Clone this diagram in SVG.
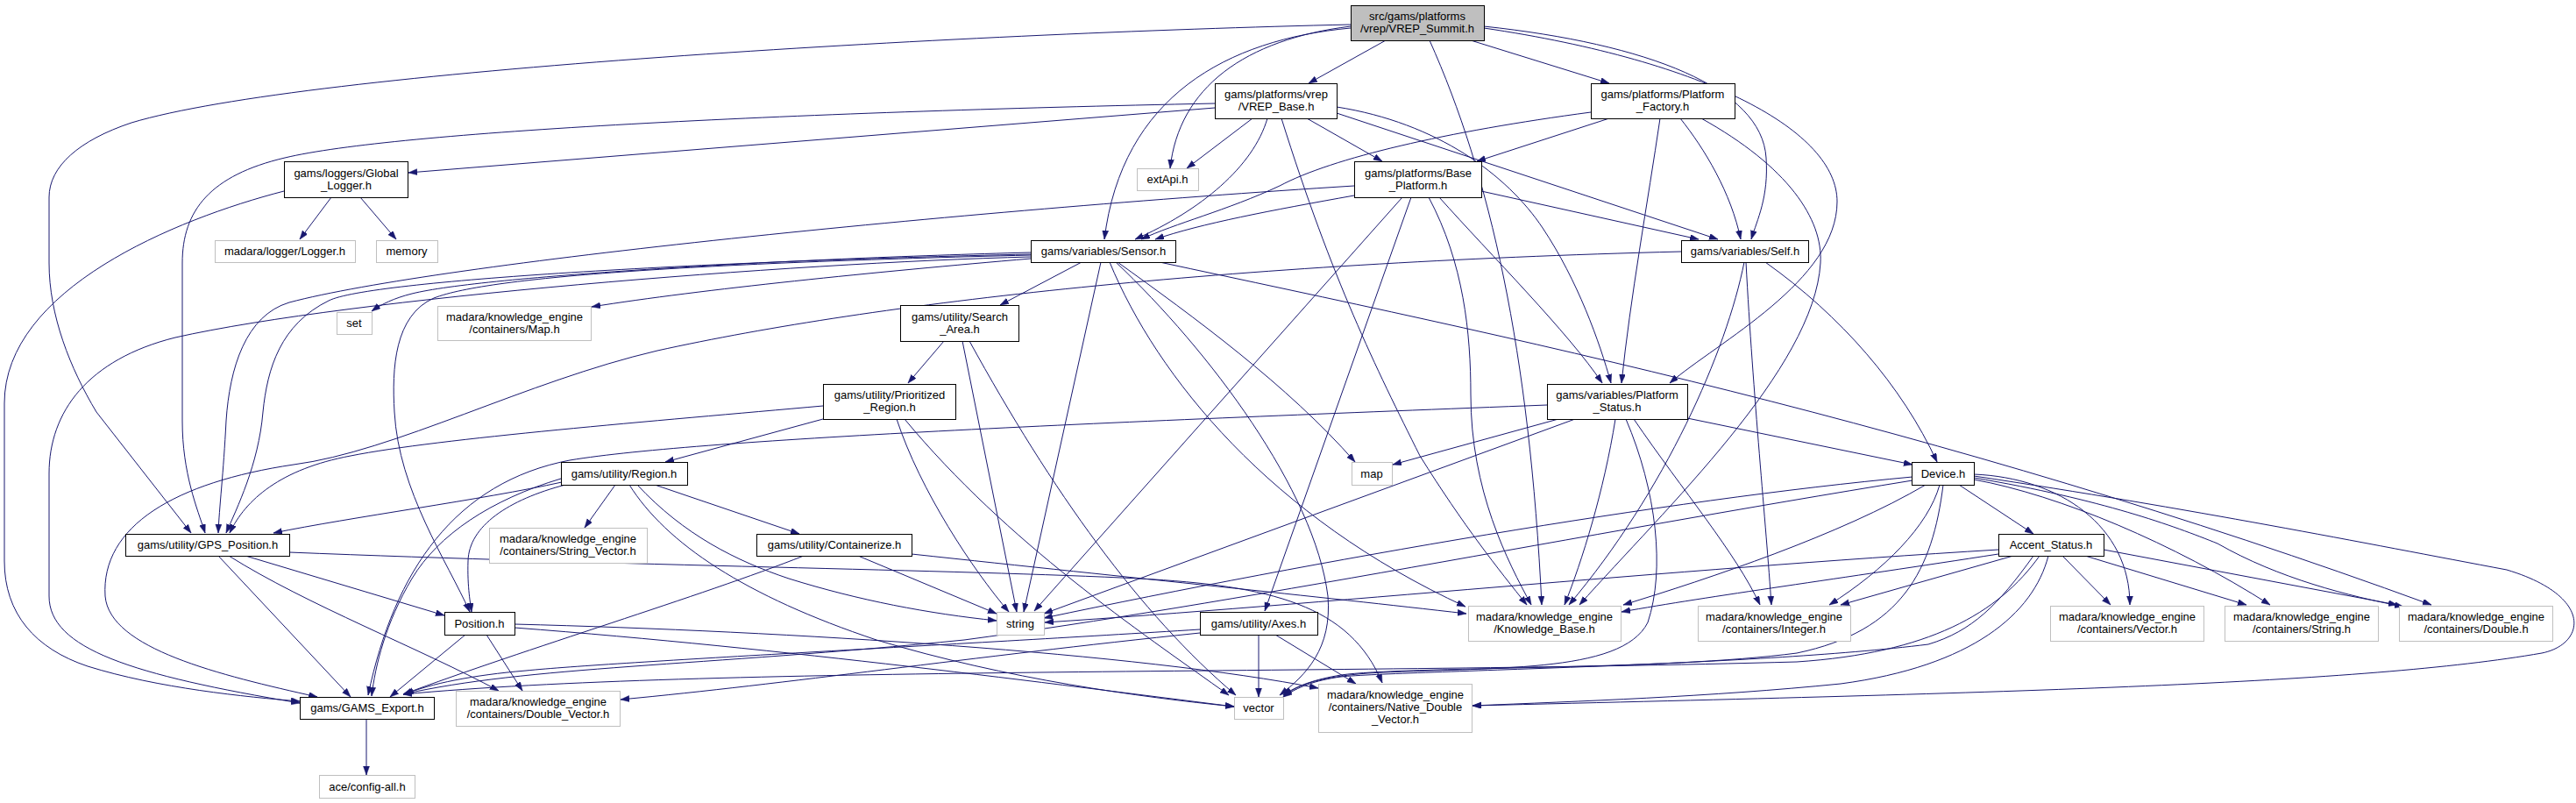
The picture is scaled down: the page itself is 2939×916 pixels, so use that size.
<svg xmlns="http://www.w3.org/2000/svg" width="2939" height="916" viewBox="0 0 2939 916">
<style>
.node rect{fill:#fff;stroke:#000;stroke-width:1}
.undoc rect{stroke:#bfbfbf}
.root rect{fill:#bfbfbf}
text{font-family:"Liberation Sans",Arial,sans-serif;font-size:13px;text-anchor:middle;fill:#000}
#edges path{fill:none;stroke:#191970;stroke-width:1;marker-end:url(#arr)}
</style>
<defs>
<marker id="arr" markerUnits="userSpaceOnUse" markerWidth="11" markerHeight="8" refX="10" refY="3.5" orient="auto">
<path d="M0,0 L10,3.5 L0,7 z" fill="#191970" stroke="#191970" stroke-width="0.5"/>
</marker>
</defs>
<rect width="2939" height="916" fill="#fff"/>
<g id="edges">
<path d="M1581,46 L1493,95"/>
<path d="M1678,46 L1836,95"/>
<path d="M1631,46 C1700,200 1745,400 1759,690"/>
<path d="M1541,30 C1420,45 1345,100 1335,192"/>
<path d="M1541,32 C1400,45 1280,110 1260,273"/>
<path d="M1541,28 C1100,38 350,80 150,140 C90,160 56,190 56,225 L56,300 C56,360 80,420 110,470 L218,608"/>
<path d="M1693,30 C1880,50 2010,100 2015,180 C2018,225 2005,250 1998,273"/>
<path d="M1693,32 C1950,70 2096,150 2096,230 C2096,320 1960,390 1905,437"/>
<path d="M1386,123 L466,197"/>
<path d="M1386,118 C900,128 450,150 325,180 C240,200 208,240 208,300 L208,480 C208,540 225,580 234,608"/>
<path d="M1429,135 L1354,192"/>
<path d="M1446,135 C1430,190 1370,240 1295,273"/>
<path d="M1491,135 L1577,184"/>
<path d="M1525,129 L1960,273"/>
<path d="M1525,122 C1640,140 1720,200 1760,260 C1800,320 1825,390 1838,437"/>
<path d="M1462,135 C1520,320 1570,420 1620,520 C1670,600 1710,650 1742,690"/>
<path d="M1815,128 C1650,150 1520,180 1460,212 C1400,240 1340,255 1302,273"/>
<path d="M1836,135 L1685,184"/>
<path d="M1894,135 C1880,230 1860,340 1850,437"/>
<path d="M1917,135 C1945,170 1975,220 1986,273"/>
<path d="M1941,135 C2040,190 2080,250 2077,300 C2070,420 1900,580 1802,690"/>
<path d="M1545,223 C1450,240 1370,255 1318,273"/>
<path d="M1545,212 C1100,240 500,300 330,345 C280,360 262,420 258,480 C255,540 250,580 249,608"/>
<path d="M1690,218 L1938,273"/>
<path d="M1600,225 L1180,697"/>
<path d="M1610,225 L1443,697"/>
<path d="M1630,225 C1670,300 1678,380 1678,450 C1678,560 1720,640 1747,690"/>
<path d="M1642,225 C1700,290 1790,380 1828,437"/>
<path d="M378,225 L342,273"/>
<path d="M411,225 L452,273"/>
<path d="M324,218 C200,250 5,330 5,460 L5,640 C5,700 40,740 100,760 C180,785 280,795 342,800"/>
<path d="M1176,293 C900,300 400,340 200,385 C100,410 56,470 56,540 L56,680 C56,740 150,770 342,802"/>
<path d="M1176,288 C900,295 550,315 470,335 C450,340 435,347 424,355"/>
<path d="M1176,295 C1000,310 800,330 675,350"/>
<path d="M1176,290 C800,298 420,320 375,343 C320,370 305,420 300,470 C295,530 270,580 258,608"/>
<path d="M1176,291 C800,300 560,315 495,340 C450,360 447,420 450,470 C455,560 510,640 536,698"/>
<path d="M1234,299 L1141,348"/>
<path d="M1256,299 L1168,698"/>
<path d="M1266,299 C1320,430 1450,590 1672,692"/>
<path d="M1273,299 C1380,400 1500,560 1515,680 C1520,740 1490,770 1460,793"/>
<path d="M1275,299 C1360,360 1470,440 1546,527"/>
<path d="M1323,299 C1700,380 2200,480 2774,690"/>
<path d="M1990,299 C1970,400 1900,560 1790,690"/>
<path d="M1992,299 C2000,450 2015,600 2021,690"/>
<path d="M2014,299 C2100,360 2170,440 2210,527"/>
<path d="M1918,287 C1400,300 1000,345 750,400 C600,435 450,515 335,530 C200,550 115,600 120,680 C125,740 250,770 362,795"/>
<path d="M939,463 C750,480 500,500 400,520 C320,535 280,570 262,608"/>
<path d="M939,478 L759,527"/>
<path d="M1023,478 C1050,560 1110,650 1151,698"/>
<path d="M1032,478 C1150,620 1300,720 1402,793"/>
<path d="M1077,389 L1036,437"/>
<path d="M1098,389 L1160,698"/>
<path d="M1106,389 C1200,560 1300,700 1410,793"/>
<path d="M1765,462 C1300,480 800,500 650,525 C520,550 450,650 420,793"/>
<path d="M1778,478 L1589,530"/>
<path d="M1797,478 L1191,700"/>
<path d="M1843,478 C1830,560 1805,640 1785,690"/>
<path d="M1855,478 C1890,560 1900,650 1880,710 C1850,770 1700,760 1560,768 C1510,772 1480,780 1464,795"/>
<path d="M1864,478 C1920,560 1980,630 2008,690"/>
<path d="M1925,477 L2182,530"/>
<path d="M641,550 C550,570 400,590 312,608"/>
<path d="M640,546 C560,570 500,610 470,660 C440,710 428,760 424,794"/>
<path d="M645,553 C580,570 535,600 534,640 C533,670 537,690 538,698"/>
<path d="M702,553 L667,602"/>
<path d="M718,553 C760,620 850,680 1000,730 C1150,775 1300,795 1408,806"/>
<path d="M727,553 C780,610 840,640 900,660 C980,685 1060,700 1137,708"/>
<path d="M747,553 L912,609"/>
<path d="M917,634 C800,680 600,740 460,792"/>
<path d="M979,634 L1137,700"/>
<path d="M1040,632 C1300,660 1500,680 1673,700"/>
<path d="M330,630 C700,645 1100,650 1300,660 C1450,668 1540,690 1577,779"/>
<path d="M280,634 L507,702"/>
<path d="M249,634 L400,795"/>
<path d="M261,634 C350,690 480,740 569,788"/>
<path d="M531,724 L445,795"/>
<path d="M555,724 L596,788"/>
<path d="M587,716 C900,740 1200,780 1408,806"/>
<path d="M587,712 C900,720 1300,745 1504,785"/>
<path d="M1436,724 L1436,795"/>
<path d="M1455,724 L1547,780"/>
<path d="M1369,718 C1100,735 700,755 600,765 C540,770 490,780 462,792"/>
<path d="M1369,722 C1100,750 900,780 708,798"/>
<path d="M2235,553 L2320,609"/>
<path d="M2182,544 C1900,570 1500,640 1191,705"/>
<path d="M2182,548 C1800,610 1400,690 1100,730 C800,760 600,760 460,792"/>
<path d="M2197,553 C2100,610 1950,660 1852,690"/>
<path d="M2213,553 C2200,600 2150,650 2087,690"/>
<path d="M2217,553 C2205,650 2170,720 2050,745 C1900,765 1600,760 1530,770 C1500,775 1480,782 1464,793"/>
<path d="M2252,541 C2350,545 2430,600 2430,690"/>
<path d="M2252,547 C2350,565 2480,620 2590,690"/>
<path d="M2252,545 C2400,570 2480,600 2530,620 C2600,660 2680,680 2742,692"/>
<path d="M2252,543 C2500,580 2700,620 2860,650 C2960,680 2950,735 2900,745 C2700,780 2300,790 1680,805"/>
<path d="M2280,627 C1900,650 1500,690 1192,710"/>
<path d="M2280,632 C2100,660 1950,680 1850,698"/>
<path d="M2297,634 L2100,690"/>
<path d="M2320,634 C2280,690 2250,720 2200,735 C2000,760 1600,765 1530,772 C1500,776 1480,784 1464,795"/>
<path d="M2327,634 C2280,700 2200,745 2050,755 C1500,770 800,760 460,792"/>
<path d="M2337,634 C2320,700 2250,760 2100,780 C1950,795 1800,800 1680,805"/>
<path d="M2353,634 L2408,690"/>
<path d="M2379,634 L2563,690"/>
<path d="M2400,627 L2735,690"/>
<path d="M418,820 L418,884"/>
</g>
<g id="n_summit" class="node root"><rect x="1541.5" y="6.5" width="152" height="40"/><text x="1617" y="23">src/gams/platforms</text><text x="1617" y="37">/vrep/VREP_Summit.h</text></g>
<g id="n_vrep_base" class="node"><rect x="1386.5" y="95.5" width="139" height="40"/><text x="1456" y="112">gams/platforms/vrep</text><text x="1456" y="126">/VREP_Base.h</text></g>
<g id="n_platform_factory" class="node"><rect x="1815.5" y="95.5" width="164" height="40"/><text x="1897" y="112">gams/platforms/Platform</text><text x="1897" y="126">_Factory.h</text></g>
<g id="n_global_logger" class="node"><rect x="324.5" y="184.5" width="141" height="41"/><text x="395" y="201.5">gams/loggers/Global</text><text x="395" y="215.5">_Logger.h</text></g>
<g id="n_base_platform" class="node"><rect x="1545.5" y="184.5" width="145" height="41"/><text x="1618" y="201.5">gams/platforms/Base</text><text x="1618" y="215.5">_Platform.h</text></g>
<g id="n_extapi" class="node undoc"><rect x="1297.5" y="192.5" width="70" height="25"/><text x="1332" y="209">extApi.h</text></g>
<g id="n_logger" class="node undoc"><rect x="245.5" y="274.5" width="160" height="25"/><text x="325" y="291">madara/logger/Logger.h</text></g>
<g id="n_memory" class="node undoc"><rect x="429.5" y="274.5" width="70" height="25"/><text x="464" y="291">memory</text></g>
<g id="n_sensor" class="node"><rect x="1176.5" y="274.5" width="165" height="25"/><text x="1259" y="291">gams/variables/Sensor.h</text></g>
<g id="n_self" class="node"><rect x="1918.5" y="274.5" width="145" height="25"/><text x="1991" y="291">gams/variables/Self.h</text></g>
<g id="n_set" class="node undoc"><rect x="384.5" y="356.5" width="40" height="25"/><text x="404" y="373">set</text></g>
<g id="n_map_h" class="node undoc"><rect x="499.5" y="349.5" width="175" height="39"/><text x="587" y="365.5">madara/knowledge_engine</text><text x="587" y="379.5">/containers/Map.h</text></g>
<g id="n_search_area" class="node"><rect x="1027.5" y="348.5" width="135" height="41"/><text x="1095" y="365.5">gams/utility/Search</text><text x="1095" y="379.5">_Area.h</text></g>
<g id="n_prioritized_region" class="node"><rect x="939.5" y="438.5" width="151" height="40"/><text x="1015" y="455">gams/utility/Prioritized</text><text x="1015" y="469">_Region.h</text></g>
<g id="n_platform_status" class="node"><rect x="1765.5" y="438.5" width="160" height="40"/><text x="1845" y="455">gams/variables/Platform</text><text x="1845" y="469">_Status.h</text></g>
<g id="n_region" class="node"><rect x="640.5" y="527.5" width="144" height="26"/><text x="712" y="544.5">gams/utility/Region.h</text></g>
<g id="n_map" class="node undoc"><rect x="1542.5" y="527.5" width="46" height="26"/><text x="1565" y="544.5">map</text></g>
<g id="n_device" class="node"><rect x="2181.5" y="527.5" width="71" height="26"/><text x="2217" y="544.5">Device.h</text></g>
<g id="n_gps_position" class="node"><rect x="143.5" y="609.5" width="187" height="25"/><text x="237" y="626">gams/utility/GPS_Position.h</text></g>
<g id="n_string_vector" class="node undoc"><rect x="558.5" y="602.5" width="180" height="40"/><text x="648" y="619">madara/knowledge_engine</text><text x="648" y="633">/containers/String_Vector.h</text></g>
<g id="n_containerize" class="node"><rect x="863.5" y="609.5" width="177" height="25"/><text x="952" y="626">gams/utility/Containerize.h</text></g>
<g id="n_accent_status" class="node"><rect x="2280.5" y="609.5" width="120" height="25"/><text x="2340" y="626">Accent_Status.h</text></g>
<g id="n_position" class="node"><rect x="507.5" y="698.5" width="80" height="26"/><text x="547" y="715.5">Position.h</text></g>
<g id="n_string" class="node undoc"><rect x="1137.5" y="698.5" width="54" height="26"/><text x="1164" y="715.5">string</text></g>
<g id="n_axes" class="node"><rect x="1369.5" y="698.5" width="134" height="26"/><text x="1436" y="715.5">gams/utility/Axes.h</text></g>
<g id="n_knowledge_base" class="node undoc"><rect x="1675.5" y="691.5" width="174" height="40"/><text x="1762" y="708">madara/knowledge_engine</text><text x="1762" y="722">/Knowledge_Base.h</text></g>
<g id="n_integer" class="node undoc"><rect x="1937.5" y="691.5" width="174" height="40"/><text x="2024" y="708">madara/knowledge_engine</text><text x="2024" y="722">/containers/Integer.h</text></g>
<g id="n_vector_h" class="node undoc"><rect x="2339.5" y="691.5" width="175" height="40"/><text x="2427" y="708">madara/knowledge_engine</text><text x="2427" y="722">/containers/Vector.h</text></g>
<g id="n_string_h" class="node undoc"><rect x="2538.5" y="691.5" width="175" height="40"/><text x="2626" y="708">madara/knowledge_engine</text><text x="2626" y="722">/containers/String.h</text></g>
<g id="n_double_h" class="node undoc"><rect x="2737.5" y="691.5" width="175" height="40"/><text x="2825" y="708">madara/knowledge_engine</text><text x="2825" y="722">/containers/Double.h</text></g>
<g id="n_gams_export" class="node"><rect x="342.5" y="795.5" width="153" height="25"/><text x="419" y="812">gams/GAMS_Export.h</text></g>
<g id="n_double_vector" class="node undoc"><rect x="520.5" y="788.5" width="187" height="40"/><text x="614" y="805">madara/knowledge_engine</text><text x="614" y="819">/containers/Double_Vector.h</text></g>
<g id="n_vector" class="node undoc"><rect x="1408.5" y="795.5" width="56" height="25"/><text x="1436" y="812">vector</text></g>
<g id="n_native_double_vector" class="node undoc"><rect x="1504.5" y="780.5" width="175" height="55"/><text x="1592" y="797">madara/knowledge_engine</text><text x="1592" y="811">/containers/Native_Double</text><text x="1592" y="825">_Vector.h</text></g>
<g id="n_ace_config" class="node undoc"><rect x="364.5" y="884.5" width="109" height="26"/><text x="419" y="901.5">ace/config-all.h</text></g>
</svg>
